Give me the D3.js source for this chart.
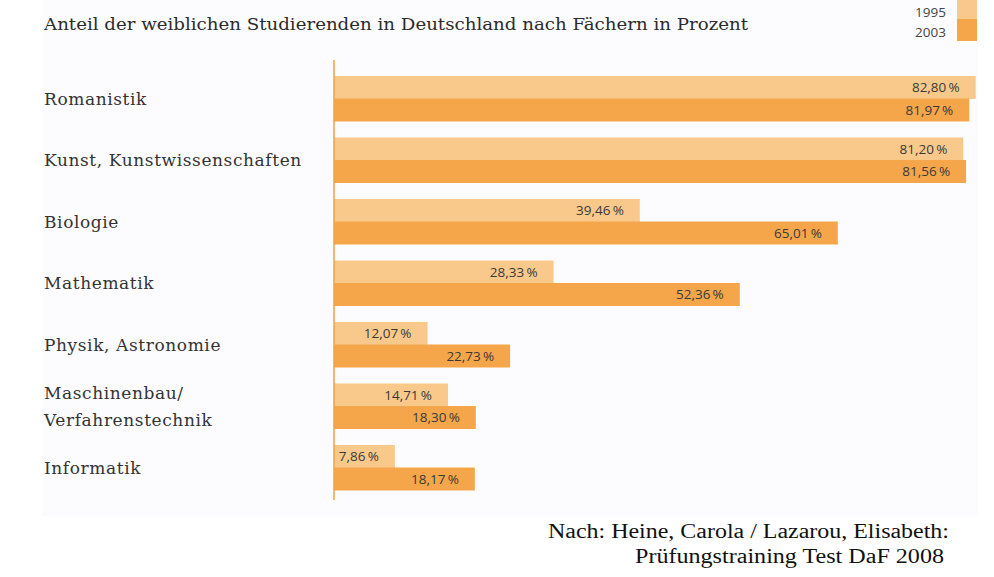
<!DOCTYPE html>
<html><head><meta charset="utf-8">
<script src="https://cdn.jsdelivr.net/npm/d3@7"></script>
<style>body{margin:0;background:#fff}svg{display:block}</style>
</head><body>
<svg id="c" width="994" height="577"></svg>
<script>
const categories = ["Romanistik","Kunst, Kunstwissenschaften","Biologie","Mathematik","Physik, Astronomie","Maschinenbau/\nVerfahrenstechnik","Informatik"];
const years = ["1995","2003"];
const values1995 = [82.80,81.20,39.46,28.33,12.07,14.71,7.86];
const values2003 = [81.97,81.56,65.01,52.36,22.73,18.30,18.17];
const title = "Anteil der weiblichen Studierenden in Deutschland nach Fächern in Prozent";
const sourceLines = ["Nach: Heine, Carola / Lazarou, Elisabeth:","Prüfungstraining Test DaF 2008"];

const colors = {"1995":"#f9c98b","2003":"#f5a64a"};
const svg = d3.select("#c");
const loc = d3.formatLocale({decimal:",",thousands:".",grouping:[3],currency:["","€"]});
const fmt = loc.format(".2f");

svg.append("rect").attr("x",42).attr("y",0).attr("width",936).attr("height",516).attr("fill","#fcfcfe");

const x = d3.scaleLinear().domain([0,100]).range([334,1109]);
const y = d3.scaleBand().domain(categories).range([76,490]).paddingInner(0.268).paddingOuter(0);
const yi = d3.scaleBand().domain(years).range([0,y.bandwidth()]);

const data = categories.map((c,i)=>({cat:c, vals:[{year:"1995",v:values1995[i]},{year:"2003",v:values2003[i]}]}));

svg.append("text").attr("x",44).attr("y",30).attr("font-family","DejaVu Serif").attr("font-size",16)
  .attr("fill","#2b2b2b").attr("textLength",704).attr("lengthAdjust","spacingAndGlyphs").text(title);

// legend
const lg = svg.append("g");
years.forEach((yr,i)=>{
  lg.append("rect").attr("x",957).attr("y",i*21-2).attr("width",20).attr("height",i?22:21).attr("fill",colors[yr]);
  lg.append("text").attr("x",946).attr("y",13+i*20).attr("text-anchor","end").attr("font-family","Open Sans")
    .attr("font-size",13.5).attr("fill","#444").attr("dominant-baseline","middle").text(yr);
});

const g = svg.selectAll("g.grp").data(data).join("g").attr("class","grp").attr("transform",d=>`translate(0,${y(d.cat)})`);
g.selectAll("rect").data(d=>d.vals).join("rect")
  .attr("x",x(0)).attr("y",d=>yi(d.year)).attr("width",d=>x(d.v)-x(0)).attr("height",yi.bandwidth()+0.5)
  .attr("fill",d=>colors[d.year]);
g.selectAll("text.val").data(d=>d.vals).join("text").attr("class","val")
  .attr("x",d=>x(d.v)-16).attr("y",d=>yi(d.year)+yi.bandwidth()/2+1.5)
  .attr("text-anchor","end").attr("dominant-baseline","middle")
  .attr("font-family","Open Sans").attr("font-size",13.5).attr("fill","#3a3a3a")
  .text(d=>fmt(d.v)+"\u2009%");

// category labels
g.each(function(d){
  const lines = d.cat.split("\n");
  const cy = y.bandwidth()/2 + 2;
  const t = d3.select(this).append("text").attr("x",44).attr("font-family","DejaVu Serif").attr("font-size",17)
    .attr("letter-spacing",0.6).attr("fill","#333");
  lines.forEach((l,i)=>{
    t.append("tspan").attr("x",44).attr("y",cy + (i-(lines.length-1)/2)*28).attr("dominant-baseline","middle").text(l);
  });
});

// axis line
svg.append("line").attr("x1",x(0)).attr("x2",x(0)).attr("y1",60).attr("y2",500).attr("stroke","#f0a040").attr("stroke-width",1.5);

// source
svg.append("text").attr("x",548).attr("y",538).attr("font-family","Liberation Serif").attr("font-size",20).attr("fill","#111")
  .attr("textLength",401).attr("lengthAdjust","spacingAndGlyphs").text(sourceLines[0]);
svg.append("text").attr("x",635).attr("y",563).attr("font-family","Liberation Serif").attr("font-size",20).attr("fill","#111")
  .attr("textLength",309).attr("lengthAdjust","spacingAndGlyphs").text(sourceLines[1]);
</script>
</body></html>
